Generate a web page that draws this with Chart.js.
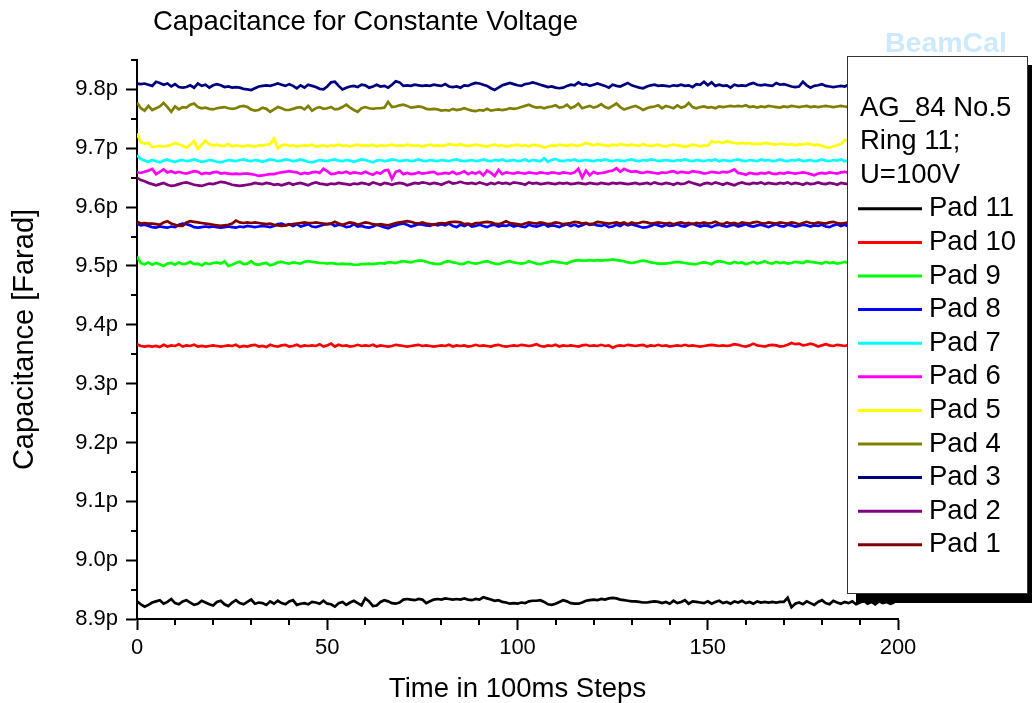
<!DOCTYPE html>
<html>
<head>
<meta charset="utf-8">
<script src="https://cdn.jsdelivr.net/npm/chart.js@4.4.1/dist/chart.umd.min.js"></script>
<style>
  body { margin: 0; background: #fff; }
  #wrap { width: 1032px; height: 703px; }
</style>
</head>
<body>
<div id="wrap"><canvas id="chartCapacitance" width="1032" height="703"></canvas></div>
<script>
// tick positions
var xMajorTicks = [0, 50, 100, 150, 200];
var xMinorTicks = [10, 20, 30, 40, 60, 70, 80, 90, 110, 120, 130, 140, 160, 170, 180, 190];
var yMajorTicks = [8.9, 9.0, 9.1, 9.2, 9.3, 9.4, 9.5, 9.6, 9.7, 9.8];
var yMinorTicks = [8.95, 9.05, 9.15, 9.25, 9.35, 9.45, 9.55, 9.65, 9.75, 9.85];

var legendHeader = ['AG_84 No.5', 'Ring 11;', 'U=100V'];
var padLabels = ['Pad 11', 'Pad 10', 'Pad 9', 'Pad 8', 'Pad 7', 'Pad 6', 'Pad 5', 'Pad 4', 'Pad 3', 'Pad 2', 'Pad 1'];
var padColors = ['#000000', '#ff0000', '#00ff00', '#0000ff', '#00ffff', '#ff00ff', '#ffff00', '#808000', '#000080', '#800080', '#800000'];

// capacitance values in pF, one value per 100ms step (0..199)
var pad11 = [
8.930,8.925,8.921,8.924,8.928,8.930,8.932,8.926,8.929,8.934,
8.927,8.925,8.930,8.932,8.928,8.924,8.926,8.931,8.928,8.925,
8.923,8.929,8.931,8.925,8.922,8.928,8.932,8.927,8.925,8.929,
8.933,8.926,8.928,8.927,8.924,8.930,8.926,8.931,8.927,8.925,
8.930,8.932,8.924,8.926,8.927,8.925,8.929,8.928,8.926,8.931,
8.926,8.925,8.921,8.927,8.929,8.924,8.928,8.931,8.927,8.923,
8.935,8.930,8.922,8.923,8.929,8.932,8.930,8.927,8.926,8.928,
8.933,8.934,8.933,8.932,8.934,8.933,8.927,8.930,8.933,8.934,
8.933,8.935,8.934,8.933,8.934,8.933,8.935,8.933,8.932,8.934,
8.933,8.937,8.935,8.933,8.931,8.932,8.929,8.928,8.926,8.927,
8.926,8.928,8.927,8.930,8.931,8.931,8.932,8.929,8.925,8.924,
8.926,8.929,8.932,8.930,8.927,8.926,8.926,8.928,8.931,8.932,
8.933,8.932,8.934,8.933,8.935,8.936,8.935,8.933,8.932,8.931,
8.930,8.930,8.929,8.928,8.928,8.929,8.930,8.929,8.927,8.929,
8.926,8.931,8.927,8.929,8.932,8.926,8.930,8.929,8.928,8.927,
8.930,8.926,8.929,8.931,8.927,8.929,8.926,8.930,8.928,8.931,
8.927,8.929,8.926,8.930,8.928,8.929,8.928,8.929,8.928,8.929,
8.929,8.936,8.920,8.926,8.928,8.925,8.930,8.927,8.924,8.929,
8.932,8.927,8.925,8.931,8.928,8.926,8.929,8.927,8.930,8.925,
8.928,8.931,8.926,8.929,8.925,8.930,8.927,8.929,8.926,8.928];

var pad10 = [
9.367,9.364,9.363,9.364,9.363,9.364,9.362,9.366,9.363,9.365,
9.364,9.367,9.363,9.365,9.364,9.366,9.363,9.364,9.363,9.364,
9.365,9.364,9.363,9.364,9.365,9.364,9.366,9.362,9.364,9.363,
9.365,9.366,9.363,9.364,9.362,9.366,9.364,9.363,9.365,9.366,
9.363,9.364,9.366,9.363,9.365,9.364,9.365,9.364,9.367,9.363,
9.365,9.368,9.363,9.366,9.364,9.365,9.363,9.364,9.366,9.364,
9.365,9.364,9.366,9.363,9.365,9.364,9.363,9.364,9.366,9.365,
9.364,9.363,9.364,9.365,9.366,9.364,9.365,9.364,9.363,9.364,
9.365,9.364,9.366,9.363,9.365,9.364,9.365,9.363,9.364,9.366,
9.364,9.365,9.364,9.363,9.365,9.366,9.364,9.363,9.364,9.365,
9.364,9.366,9.365,9.364,9.365,9.367,9.364,9.363,9.365,9.364,
9.366,9.363,9.365,9.364,9.365,9.364,9.363,9.365,9.366,9.364,
9.365,9.364,9.366,9.364,9.365,9.361,9.364,9.365,9.364,9.366,
9.365,9.364,9.365,9.366,9.363,9.365,9.364,9.366,9.364,9.365,
9.363,9.364,9.365,9.364,9.366,9.364,9.365,9.364,9.363,9.364,
9.365,9.366,9.365,9.364,9.365,9.364,9.365,9.367,9.366,9.364,
9.363,9.365,9.368,9.365,9.364,9.363,9.365,9.366,9.365,9.363,
9.364,9.366,9.369,9.367,9.368,9.365,9.366,9.368,9.366,9.363,
9.365,9.367,9.365,9.364,9.366,9.365,9.364,9.366,9.365,9.364,
9.365,9.364,9.366,9.365,9.364,9.366,9.365,9.364,9.365,9.366];

var pad9 = [
9.516,9.505,9.503,9.506,9.502,9.505,9.503,9.500,9.504,9.505,
9.502,9.506,9.503,9.504,9.507,9.503,9.504,9.501,9.505,9.503,
9.505,9.506,9.504,9.508,9.500,9.502,9.505,9.507,9.503,9.504,
9.508,9.503,9.502,9.504,9.505,9.501,9.503,9.506,9.507,9.505,
9.504,9.506,9.505,9.504,9.507,9.508,9.507,9.506,9.505,9.505,
9.504,9.505,9.504,9.503,9.504,9.503,9.503,9.502,9.502,9.503,
9.503,9.504,9.503,9.504,9.505,9.504,9.506,9.506,9.505,9.507,
9.508,9.507,9.506,9.508,9.509,9.509,9.507,9.505,9.504,9.503,
9.504,9.507,9.508,9.506,9.505,9.503,9.504,9.507,9.505,9.504,
9.505,9.507,9.508,9.506,9.504,9.503,9.505,9.507,9.508,9.506,
9.505,9.504,9.505,9.508,9.506,9.504,9.503,9.505,9.506,9.508,
9.507,9.506,9.505,9.504,9.507,9.509,9.510,9.509,9.509,9.510,
9.509,9.510,9.509,9.510,9.510,9.511,9.510,9.509,9.508,9.506,
9.505,9.506,9.508,9.509,9.508,9.506,9.505,9.504,9.504,9.504,
9.505,9.506,9.507,9.506,9.505,9.504,9.503,9.503,9.505,9.506,
9.505,9.503,9.507,9.508,9.507,9.505,9.504,9.507,9.505,9.506,
9.503,9.505,9.507,9.504,9.506,9.508,9.505,9.504,9.507,9.505,
9.506,9.504,9.505,9.507,9.506,9.505,9.508,9.507,9.506,9.505,
9.504,9.507,9.505,9.506,9.504,9.505,9.507,9.505,9.506,9.507,
9.505,9.506,9.504,9.506,9.505,9.507,9.506,9.505,9.504,9.506];

var pad8 = [
9.572,9.569,9.570,9.568,9.566,9.565,9.567,9.566,9.565,9.567,
9.566,9.570,9.572,9.571,9.569,9.566,9.565,9.566,9.567,9.566,
9.567,9.566,9.565,9.566,9.567,9.566,9.565,9.567,9.566,9.568,
9.567,9.566,9.567,9.568,9.567,9.566,9.568,9.571,9.572,9.569,
9.571,9.568,9.571,9.567,9.569,9.571,9.567,9.566,9.568,9.570,
9.571,9.572,9.568,9.570,9.569,9.566,9.567,9.571,9.567,9.568,
9.566,9.565,9.567,9.570,9.568,9.566,9.564,9.567,9.569,9.571,
9.572,9.570,9.567,9.569,9.571,9.570,9.569,9.568,9.571,9.569,
9.571,9.569,9.572,9.568,9.566,9.570,9.568,9.571,9.567,9.568,
9.570,9.568,9.566,9.569,9.570,9.567,9.569,9.568,9.570,9.567,
9.569,9.567,9.566,9.570,9.568,9.567,9.569,9.571,9.567,9.569,
9.568,9.566,9.569,9.571,9.568,9.570,9.567,9.569,9.572,9.570,
9.571,9.569,9.568,9.570,9.566,9.567,9.570,9.568,9.572,9.569,
9.571,9.569,9.567,9.565,9.566,9.568,9.571,9.569,9.567,9.570,
9.568,9.569,9.571,9.568,9.567,9.570,9.572,9.569,9.567,9.569,
9.568,9.566,9.569,9.570,9.568,9.567,9.569,9.570,9.567,9.569,
9.571,9.568,9.567,9.569,9.570,9.568,9.566,9.569,9.571,9.568,
9.567,9.570,9.569,9.567,9.568,9.570,9.569,9.567,9.569,9.568,
9.570,9.567,9.566,9.569,9.571,9.568,9.570,9.567,9.569,9.568,
9.570,9.568,9.567,9.569,9.570,9.568,9.569,9.567,9.570,9.568];

var pad7 = [
9.688,9.682,9.679,9.677,9.680,9.678,9.676,9.679,9.681,9.678,
9.677,9.679,9.680,9.678,9.679,9.681,9.679,9.677,9.678,9.680,
9.679,9.677,9.676,9.678,9.680,9.679,9.678,9.680,9.681,9.679,
9.678,9.680,9.679,9.677,9.679,9.681,9.680,9.678,9.679,9.681,
9.680,9.678,9.679,9.681,9.679,9.677,9.676,9.678,9.680,9.679,
9.678,9.680,9.681,9.679,9.678,9.680,9.679,9.677,9.679,9.681,
9.680,9.678,9.676,9.679,9.680,9.678,9.679,9.681,9.680,9.678,
9.679,9.680,9.678,9.679,9.681,9.679,9.678,9.680,9.679,9.678,
9.680,9.679,9.678,9.680,9.681,9.679,9.678,9.679,9.680,9.678,
9.679,9.681,9.679,9.678,9.680,9.679,9.681,9.678,9.679,9.680,
9.678,9.679,9.681,9.678,9.680,9.679,9.678,9.683,9.677,9.680,
9.682,9.679,9.678,9.680,9.679,9.681,9.678,9.679,9.680,9.679,
9.678,9.680,9.679,9.681,9.679,9.678,9.680,9.679,9.678,9.680,
9.681,9.679,9.678,9.680,9.679,9.681,9.680,9.678,9.679,9.680,
9.679,9.678,9.680,9.679,9.681,9.679,9.678,9.680,9.679,9.678,
9.680,9.679,9.681,9.678,9.680,9.679,9.678,9.680,9.681,9.679,
9.678,9.680,9.679,9.678,9.681,9.679,9.680,9.678,9.679,9.681,
9.679,9.678,9.680,9.679,9.681,9.678,9.679,9.680,9.678,9.679,
9.681,9.679,9.678,9.680,9.679,9.681,9.678,9.680,9.679,9.678,
9.680,9.679,9.681,9.679,9.678,9.680,9.679,9.678,9.680,9.679];

var pad6 = [
9.659,9.658,9.660,9.662,9.665,9.656,9.660,9.664,9.659,9.661,
9.658,9.660,9.658,9.657,9.659,9.661,9.660,9.656,9.658,9.657,
9.659,9.660,9.657,9.658,9.657,9.656,9.657,9.656,9.657,9.657,
9.656,9.655,9.653,9.654,9.655,9.656,9.656,9.658,9.659,9.660,
9.661,9.660,9.659,9.656,9.658,9.657,9.659,9.660,9.658,9.665,
9.661,9.656,9.657,9.659,9.658,9.660,9.657,9.659,9.658,9.657,
9.660,9.657,9.655,9.659,9.657,9.662,9.663,9.648,9.660,9.662,
9.656,9.658,9.656,9.657,9.659,9.657,9.658,9.659,9.660,9.656,
9.657,9.658,9.657,9.660,9.656,9.658,9.661,9.656,9.659,9.657,
9.660,9.654,9.662,9.658,9.653,9.663,9.656,9.659,9.658,9.657,
9.659,9.658,9.657,9.659,9.658,9.657,9.659,9.658,9.657,9.659,
9.658,9.657,9.659,9.658,9.657,9.659,9.665,9.650,9.662,9.654,
9.660,9.657,9.658,9.659,9.661,9.662,9.666,9.660,9.665,9.662,
9.660,9.661,9.659,9.658,9.660,9.659,9.658,9.657,9.659,9.658,
9.660,9.661,9.658,9.660,9.659,9.658,9.661,9.660,9.659,9.657,
9.658,9.660,9.659,9.658,9.660,9.659,9.661,9.664,9.658,9.657,
9.655,9.658,9.657,9.656,9.658,9.657,9.659,9.657,9.656,9.658,
9.657,9.659,9.658,9.657,9.658,9.659,9.658,9.656,9.654,9.657,
9.658,9.657,9.659,9.658,9.657,9.659,9.660,9.658,9.657,9.659,
9.658,9.657,9.659,9.658,9.657,9.659,9.658,9.657,9.659,9.658];

var pad5 = [
9.725,9.710,9.708,9.709,9.702,9.703,9.704,9.703,9.704,9.706,
9.709,9.707,9.704,9.701,9.706,9.712,9.699,9.706,9.713,9.707,
9.705,9.706,9.704,9.704,9.707,9.703,9.705,9.704,9.703,9.705,
9.704,9.703,9.705,9.705,9.706,9.707,9.716,9.700,9.705,9.706,
9.704,9.705,9.703,9.704,9.705,9.704,9.706,9.703,9.704,9.705,
9.703,9.705,9.704,9.706,9.704,9.705,9.703,9.705,9.706,9.704,
9.705,9.704,9.706,9.703,9.705,9.704,9.705,9.706,9.704,9.705,
9.704,9.706,9.705,9.704,9.705,9.703,9.705,9.706,9.704,9.705,
9.704,9.705,9.707,9.706,9.705,9.707,9.705,9.704,9.705,9.706,
9.705,9.704,9.703,9.705,9.706,9.704,9.705,9.703,9.704,9.705,
9.706,9.704,9.705,9.703,9.706,9.705,9.704,9.701,9.703,9.705,
9.704,9.706,9.705,9.704,9.706,9.705,9.704,9.706,9.709,9.707,
9.705,9.707,9.706,9.705,9.704,9.706,9.705,9.707,9.706,9.705,
9.706,9.705,9.704,9.707,9.705,9.704,9.705,9.706,9.704,9.703,
9.705,9.706,9.705,9.704,9.702,9.704,9.706,9.705,9.703,9.705,
9.704,9.712,9.710,9.711,9.709,9.712,9.710,9.709,9.708,9.709,
9.708,9.709,9.707,9.708,9.707,9.709,9.708,9.707,9.706,9.708,
9.707,9.706,9.707,9.705,9.707,9.706,9.708,9.707,9.705,9.706,
9.704,9.702,9.701,9.703,9.705,9.707,9.714,9.712,9.708,9.707,
9.706,9.705,9.707,9.706,9.705,9.706,9.707,9.705,9.706,9.707];

var pad4 = [
9.778,9.768,9.764,9.772,9.765,9.768,9.771,9.777,9.770,9.762,
9.771,9.766,9.770,9.769,9.774,9.776,9.770,9.768,9.769,9.767,
9.766,9.768,9.769,9.770,9.768,9.767,9.768,9.771,9.772,9.770,
9.766,9.764,9.765,9.769,9.767,9.762,9.766,9.770,9.768,9.765,
9.765,9.767,9.769,9.770,9.766,9.772,9.764,9.768,9.770,9.767,
9.768,9.770,9.766,9.767,9.770,9.774,9.769,9.765,9.762,9.768,
9.770,9.768,9.767,9.768,9.768,9.769,9.779,9.770,9.771,9.773,
9.774,9.772,9.769,9.770,9.771,9.770,9.767,9.766,9.767,9.766,
9.764,9.765,9.764,9.767,9.765,9.766,9.768,9.766,9.764,9.763,
9.765,9.764,9.767,9.764,9.765,9.766,9.765,9.766,9.768,9.767,
9.768,9.770,9.772,9.774,9.771,9.769,9.770,9.768,9.770,9.771,
9.773,9.769,9.770,9.774,9.768,9.771,9.776,9.768,9.770,9.772,
9.769,9.771,9.775,9.770,9.768,9.772,9.776,9.770,9.766,9.768,
9.770,9.772,9.769,9.765,9.768,9.770,9.771,9.773,9.768,9.772,
9.770,9.768,9.773,9.769,9.771,9.777,9.770,9.768,9.770,9.771,
9.769,9.770,9.768,9.771,9.770,9.771,9.772,9.771,9.772,9.771,
9.773,9.770,9.771,9.769,9.771,9.770,9.772,9.771,9.770,9.769,
9.771,9.770,9.772,9.771,9.770,9.771,9.772,9.770,9.771,9.770,
9.771,9.772,9.771,9.770,9.771,9.772,9.771,9.770,9.771,9.772,
9.771,9.770,9.772,9.771,9.770,9.771,9.772,9.771,9.770,9.771];

var pad3 = [
9.810,9.809,9.810,9.808,9.806,9.813,9.811,9.808,9.810,9.805,
9.809,9.804,9.803,9.804,9.807,9.803,9.810,9.806,9.808,9.803,
9.807,9.809,9.807,9.804,9.805,9.803,9.804,9.803,9.801,9.800,
9.799,9.802,9.805,9.806,9.807,9.806,9.808,9.810,9.808,9.806,
9.809,9.806,9.802,9.807,9.803,9.808,9.806,9.804,9.801,9.800,
9.805,9.812,9.813,9.806,9.800,9.803,9.805,9.806,9.804,9.808,
9.807,9.803,9.805,9.808,9.805,9.806,9.803,9.808,9.814,9.812,
9.806,9.807,9.806,9.808,9.807,9.806,9.807,9.806,9.808,9.807,
9.806,9.809,9.805,9.804,9.805,9.803,9.807,9.806,9.809,9.811,
9.810,9.808,9.806,9.802,9.799,9.803,9.807,9.809,9.811,9.809,
9.807,9.806,9.809,9.810,9.812,9.810,9.808,9.806,9.804,9.805,
9.803,9.802,9.803,9.806,9.808,9.807,9.812,9.808,9.809,9.806,
9.808,9.810,9.808,9.806,9.803,9.808,9.806,9.805,9.808,9.811,
9.807,9.805,9.803,9.802,9.805,9.807,9.808,9.806,9.807,9.806,
9.805,9.807,9.806,9.808,9.806,9.807,9.804,9.809,9.808,9.813,
9.807,9.812,9.806,9.808,9.806,9.807,9.803,9.808,9.806,9.807,
9.806,9.809,9.811,9.808,9.807,9.808,9.807,9.806,9.811,9.808,
9.809,9.807,9.805,9.804,9.805,9.813,9.807,9.803,9.806,9.807,
9.809,9.806,9.805,9.804,9.805,9.806,9.805,9.808,9.807,9.806,
9.807,9.808,9.806,9.807,9.808,9.806,9.807,9.808,9.806,9.807];

var pad2 = [
9.650,9.646,9.644,9.641,9.639,9.637,9.639,9.641,9.638,9.636,
9.637,9.639,9.641,9.642,9.640,9.638,9.637,9.636,9.638,9.640,
9.639,9.641,9.643,9.642,9.640,9.638,9.637,9.636,9.637,9.638,
9.639,9.641,9.640,9.639,9.641,9.640,9.638,9.639,9.637,9.639,
9.641,9.638,9.640,9.641,9.639,9.637,9.640,9.642,9.640,9.639,
9.638,9.640,9.639,9.641,9.640,9.639,9.638,9.640,9.639,9.641,
9.640,9.638,9.642,9.640,9.638,9.641,9.640,9.638,9.640,9.641,
9.640,9.637,9.639,9.641,9.640,9.642,9.641,9.639,9.641,9.640,
9.638,9.641,9.643,9.640,9.641,9.643,9.641,9.640,9.641,9.639,
9.642,9.640,9.638,9.641,9.639,9.642,9.640,9.641,9.639,9.642,
9.641,9.640,9.638,9.642,9.640,9.641,9.639,9.640,9.641,9.640,
9.639,9.641,9.640,9.641,9.639,9.640,9.641,9.640,9.639,9.641,
9.640,9.639,9.641,9.640,9.639,9.641,9.640,9.641,9.640,9.639,
9.640,9.641,9.639,9.640,9.641,9.639,9.642,9.640,9.639,9.641,
9.640,9.638,9.641,9.639,9.640,9.643,9.641,9.639,9.637,9.640,
9.641,9.639,9.642,9.640,9.638,9.641,9.639,9.637,9.640,9.642,
9.640,9.639,9.641,9.640,9.642,9.639,9.641,9.640,9.639,9.641,
9.640,9.642,9.639,9.641,9.640,9.638,9.641,9.639,9.640,9.642,
9.640,9.639,9.641,9.640,9.638,9.641,9.640,9.639,9.641,9.640,
9.639,9.641,9.640,9.642,9.640,9.639,9.641,9.640,9.639,9.641];

var pad1 = [
9.575,9.572,9.573,9.572,9.572,9.571,9.570,9.574,9.576,9.572,
9.570,9.568,9.568,9.574,9.576,9.575,9.574,9.573,9.572,9.571,
9.570,9.569,9.568,9.569,9.570,9.572,9.577,9.574,9.573,9.574,
9.573,9.574,9.573,9.572,9.571,9.572,9.570,9.569,9.568,9.569,
9.570,9.571,9.572,9.573,9.574,9.573,9.573,9.574,9.573,9.572,
9.571,9.572,9.575,9.572,9.570,9.572,9.574,9.573,9.570,9.572,
9.574,9.573,9.571,9.570,9.571,9.570,9.569,9.571,9.573,9.574,
9.575,9.576,9.575,9.573,9.572,9.574,9.572,9.571,9.570,9.572,
9.573,9.572,9.574,9.575,9.575,9.574,9.571,9.572,9.570,9.573,
9.573,9.574,9.575,9.574,9.572,9.571,9.573,9.576,9.573,9.572,
9.571,9.570,9.572,9.574,9.573,9.572,9.574,9.573,9.571,9.572,
9.574,9.573,9.571,9.572,9.573,9.575,9.574,9.572,9.573,9.571,
9.572,9.575,9.574,9.573,9.572,9.573,9.574,9.572,9.574,9.571,
9.574,9.572,9.573,9.575,9.574,9.572,9.573,9.574,9.573,9.572,
9.573,9.571,9.573,9.574,9.572,9.573,9.571,9.573,9.572,9.574,
9.572,9.573,9.575,9.572,9.571,9.574,9.572,9.573,9.571,9.574,
9.573,9.572,9.574,9.575,9.573,9.572,9.574,9.573,9.572,9.574,
9.573,9.572,9.574,9.573,9.571,9.573,9.575,9.573,9.572,9.574,
9.573,9.572,9.574,9.575,9.573,9.572,9.573,9.574,9.573,9.572,
9.574,9.573,9.572,9.573,9.574,9.572,9.573,9.574,9.572,9.573];

var padSeries = [pad11, pad10, pad9, pad8, pad7, pad6, pad5, pad4, pad3, pad2, pad1];

var FONT = "'Liberation Sans', Arial, Helvetica, sans-serif";
Chart.defaults.font.family = FONT;
Chart.defaults.color = '#000';

function toPoints(arr) {
    var pts = [];
    for (var i = 0; i < arr.length; i++) {
        pts.push({ x: i, y: arr[i] });
    }
    return pts;
}

var datasets = [];
for (var i = 0; i < padSeries.length; i++) {
    datasets.push({
        label: padLabels[i],
        data: toPoints(padSeries[i]),
        borderColor: padColors[i],
        backgroundColor: padColors[i],
        borderWidth: 2.7,
        pointRadius: 0,
        tension: 0,
        fill: false,
        order: padLabels.length - i   // Pad 1 drawn on top
    });
}

// minor ticks, title, watermark and the boxed legend
var overlayPlugin = {
    id: 'overlay',
    afterDraw: function(chart) {
        var ctx = chart.ctx;
        var xs = chart.scales.x, ys = chart.scales.y;
        var area = chart.chartArea;
        ctx.save();

        // minor ticks
        ctx.strokeStyle = '#000';
        ctx.lineWidth = 2;
        ctx.beginPath();
        yMinorTicks.forEach(function(v) {
            var py = Math.round(ys.getPixelForValue(v));
            ctx.moveTo(area.left - 6, py);
            ctx.lineTo(area.left, py);
        });
        xMinorTicks.forEach(function(v) {
            var px = Math.round(xs.getPixelForValue(v));
            ctx.moveTo(px, area.bottom);
            ctx.lineTo(px, area.bottom + 6);
        });
        ctx.stroke();

        // title
        ctx.fillStyle = '#000';
        ctx.font = '27.5px ' + FONT;
        ctx.textAlign = 'left';
        ctx.textBaseline = 'alphabetic';
        ctx.fillText('Capacitance for Constante Voltage', 153, 30);

        // watermark
        ctx.fillStyle = '#cdeafc';
        ctx.font = 'bold 28.5px ' + FONT;
        ctx.fillText('BeamCal', 885, 52);

        // legend box with shadow
        var bx = 847, by = 56, bw = 180, bh = 537;
        ctx.fillStyle = '#000';
        ctx.fillRect(bx + 9, by + 9, bw + 10, bh + 1);
        ctx.fillStyle = '#fff';
        ctx.fillRect(bx, by, bw, bh);
        ctx.strokeStyle = '#333';
        ctx.lineWidth = 1;
        ctx.strokeRect(bx + 0.5, by + 0.5, bw, bh);

        ctx.fillStyle = '#000';
        ctx.font = '27.5px ' + FONT;
        ctx.textBaseline = 'middle';
        var lineH = 33.6;
        var y0 = 108;
        legendHeader.forEach(function(t, k) {
            ctx.fillText(t, 860, y0 + k * lineH);
        });
        chart.data.datasets.forEach(function(ds, k) {
            var ly = y0 + (k + legendHeader.length) * lineH;
            ctx.strokeStyle = ds.borderColor;
            ctx.lineWidth = 3;
            ctx.beginPath();
            ctx.moveTo(858, ly);
            ctx.lineTo(922, ly);
            ctx.stroke();
            ctx.fillStyle = '#000';
            ctx.fillText(ds.label, 929, ly);
        });
        ctx.restore();
    }
};

var ctx = document.getElementById('chartCapacitance');
var myCapChart = new Chart(ctx, {
    type: 'line',
    data: { datasets: datasets },
    plugins: [overlayPlugin],
    options: {
        responsive: false,
        animation: false,
        layout: { padding: { left: 0, right: 134, top: 60, bottom: 0 } },
        plugins: {
            legend: { display: false },
            title: { display: false },
            tooltip: { enabled: false }
        },
        scales: {
            x: {
                type: 'linear',
                min: 0,
                max: 200,
                afterBuildTicks: function(scale) {
                    scale.ticks = xMajorTicks.map(function(v) { return { value: v }; });
                },
                afterFit: function(scale) { scale.height = 84; },
                ticks: {
                    font: { size: 22 },
                    padding: 5,
                    maxRotation: 0,
                    callback: function(v) { return String(v); }
                },
                grid: { drawOnChartArea: false, drawTicks: true, tickLength: 11, tickWidth: 2, tickColor: '#000' },
                border: { display: true, color: '#000', width: 2 },
                title: {
                    display: true,
                    text: 'Time in 100ms Steps',
                    font: { size: 27.5, lineHeight: 1 },
                    padding: { top: 0, bottom: 0 }
                }
            },
            y: {
                type: 'linear',
                min: 8.9,
                max: 9.85,
                afterBuildTicks: function(scale) {
                    scale.ticks = yMajorTicks.map(function(v) { return { value: v }; });
                },
                afterFit: function(scale) { scale.width = 137; },
                ticks: {
                    font: { size: 22 },
                    padding: 8,
                    callback: function(v) { return v.toFixed(1) + 'p'; }
                },
                grid: { drawOnChartArea: false, drawTicks: true, tickLength: 11, tickWidth: 2, tickColor: '#000' },
                border: { display: true, color: '#000', width: 2 },
                title: {
                    display: true,
                    text: 'Capacitance [Farad]',
                    font: { size: 29, lineHeight: 1 },
                    padding: { top: 10, bottom: 0 }
                }
            }
        }
    }
});
</script>
</body>
</html>
